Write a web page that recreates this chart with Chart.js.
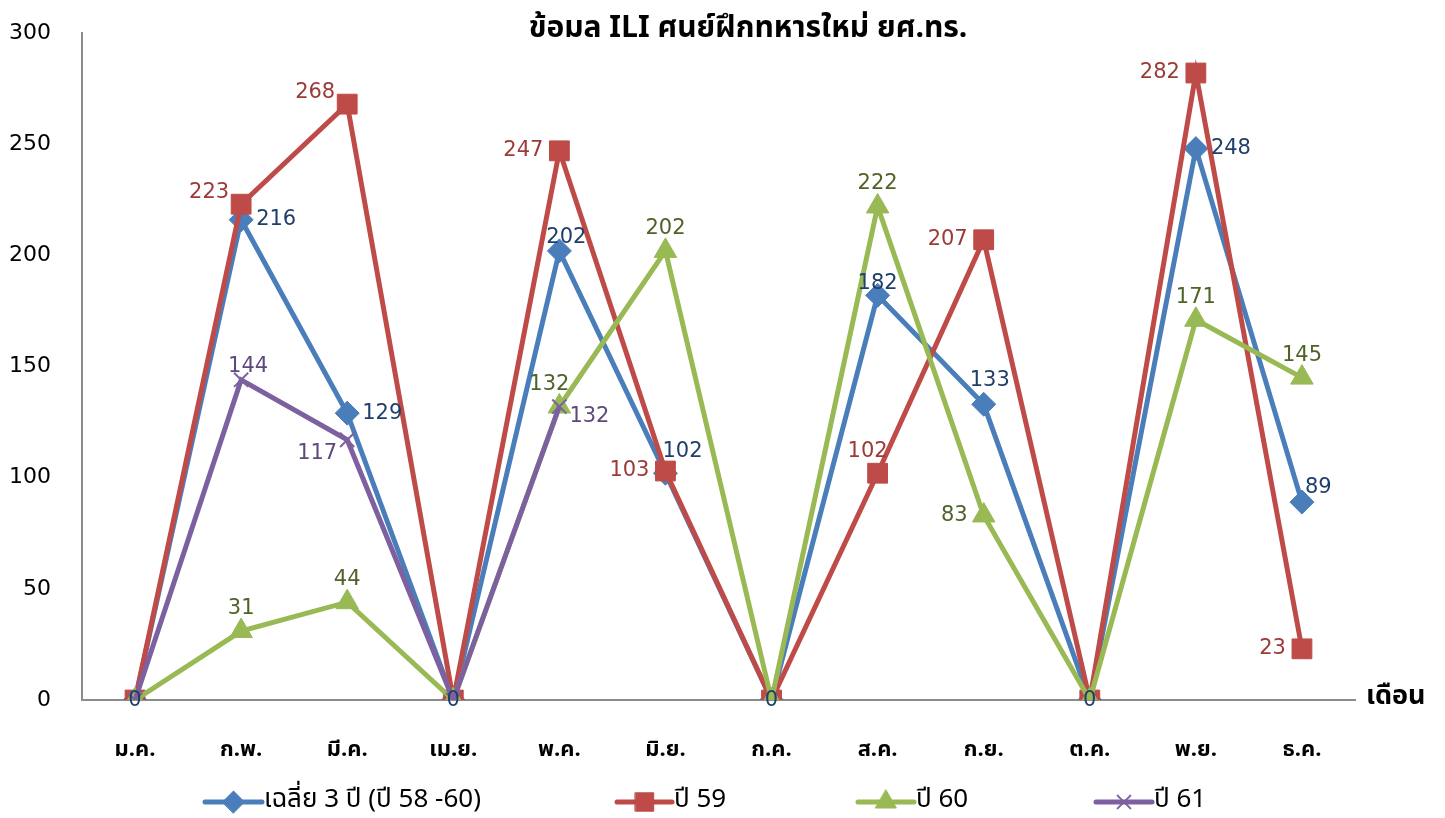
<!DOCTYPE html>
<html>
<head>
<meta charset="utf-8">
<script src="https://cdn.jsdelivr.net/npm/chart.js@4/dist/chart.umd.min.js"></script>
<style>
  html, body { margin: 0; padding: 0; background: #fff; }
</style>
</head>
<body>
<canvas id="iliChart" width="1445" height="818"></canvas>
<script>
// data
const months = ['ม.ค.', 'ก.พ.', 'มี.ค.', 'เม.ย.', 'พ.ค.', 'มิ.ย.', 'ก.ค.', 'ส.ค.', 'ก.ย.', 'ต.ค.', 'พ.ย.', 'ธ.ค.'];
const avg3Years = [0, 216, 129, 0, 202, 102, 0, 182, 133, 0, 248, 89];
const year59 = [0, 223, 268, 0, 247, 103, 0, 102, 207, 0, 282, 23];
const year60 = [0, 31, 44, 0, 132, 202, 0, 222, 83, 0, 171, 145];
const year61 = [0, 144, 117, 0, 132, null, null, null, null, null, null, null];
const seriesNames = ['เฉลี่ย 3 ปี (ปี 58 -60)', 'ปี 59', 'ปี 60', 'ปี 61'];
const yTickValues = [0, 50, 100, 150, 200, 250, 300];

// where each value label sits relative to its point
const avgLabelPos = ['c', 'r', 'r', 'c', 'or', 'tr', 'c', 'o', 'tr2', 'c', 'r', 'ur'];
const y59LabelPos = ['-', 'tl', 'tl', '-', 'l', 'l', '-', 'ta', 'l', '-', 'l', 'l'];
const y60LabelPos = ['-', 't', 't', '-', 'ta', 't', '-', 't', 'l', '-', 't', 't'];
const y61LabelPos = ['-', 'or', 'bl', '-', 'br', '-', '-', '-', '-', '-', '-', '-'];

const THAI = '"Noto Sans Thai", Tahoma, "DejaVu Sans", sans-serif';
const NUM = '"DejaVu Sans", Tahoma, sans-serif';

const lineColors = ['#4A7EBB', '#BE4B48', '#98B954', '#7D60A0'];
const labelColors = ['#1F3F6B', '#9B3A37', '#4F6228', '#5F497A'];
const pointStyles = ['rectRot', 'rect', 'triangle', 'crossRot'];
const pointSizes = [12, 14, 13, 10];

function offsetFor(pos) {
    switch (pos) {
        case 'r': return [15, 0, 'left', 'middle'];
        case 'br': return [10, 10, 'left', 'middle'];
        case 'l': return [-16, 0, 'right', 'middle'];
        case 't': return [0, -12, 'center', 'bottom'];
        case 'ta': return [-10, -11, 'center', 'bottom'];
        case 'o': return [0, -1, 'center', 'bottom'];
        case 'or': return [7, -3, 'center', 'bottom'];
        case 'tr': return [-3, -11, 'left', 'bottom'];
        case 'tr2': return [6, -13, 'center', 'bottom'];
        case 'ur': return [3, -4, 'left', 'bottom'];
        case 'tl': return [-12, -1, 'right', 'bottom'];
        case 'bl': return [-10, 3, 'right', 'top'];
        default: return [0, 0, 'center', 'middle'];
    }
}

const valueLabels = {
    id: 'valueLabels',
    afterDatasetsDraw(chart) {
        const ctx = chart.ctx;
        const positions = [avgLabelPos, y59LabelPos, y60LabelPos, y61LabelPos];
        ctx.save();
        ctx.font = '21px ' + NUM;
        [1, 2, 3, 0].forEach(i => {
            const meta = chart.getDatasetMeta(i);
            const values = chart.data.datasets[i].data;
            meta.data.forEach((pt, j) => {
                const v = values[j];
                const pos = positions[i][j];
                if (v === null || pos === '-') return;
                const [dx, dy, align, base] = offsetFor(pos);
                ctx.fillStyle = labelColors[i];
                ctx.textAlign = align;
                ctx.textBaseline = base;
                ctx.fillText(String(v), pt.x + dx, pt.y + dy + (pos === 'c' ? 1 : 0));
            });
        });
        ctx.restore();
    }
};

const decorations = {
    id: 'decorations',
    afterDraw(chart) {
        const ctx = chart.ctx;
        ctx.save();
        // title
        ctx.fillStyle = '#000';
        ctx.font = 'bold 30px ' + THAI;
        ctx.textAlign = 'center';
        ctx.textBaseline = 'middle';
        ctx.fillText('ข้อมล ILI ศนย์ฝึกทหารใหม่ ยศ.ทร.', 748, 31);

        // x axis title
        ctx.font = 'bold 27px ' + THAI;
        ctx.textAlign = 'left';
        ctx.fillText('เดือน', 1366, 699);

        // legend
        const items = [[205, 262], [617, 672], [858, 914], [1096, 1152]];
        ctx.font = '26px ' + THAI;
        items.forEach(([x0, x1], i) => {
            const y = 802;
            ctx.strokeStyle = lineColors[i];
            ctx.lineWidth = 5;
            ctx.lineCap = 'round';
            ctx.beginPath();
            ctx.moveTo(x0, y);
            ctx.lineTo(x1, y);
            ctx.stroke();
            ctx.fillStyle = lineColors[i];
            ctx.lineWidth = i === 3 ? 2 : 1;
            Chart.helpers.drawPoint(ctx, {
                pointStyle: pointStyles[i],
                radius: pointSizes[i] - 1,
                borderWidth: ctx.lineWidth,
                rotation: 0
            }, (x0 + x1) / 2, y);
            ctx.fillStyle = '#000';
            ctx.textAlign = 'left';
            ctx.textBaseline = 'middle';
            ctx.fillText(seriesNames[i], x1 + 2, y);
        });
        ctx.restore();
    }
};

const seriesValues = [avg3Years, year59, year60, year61];
const datasets = seriesValues.map((vals, i) => ({
    label: seriesNames[i],
    data: vals,
    borderColor: lineColors[i],
    backgroundColor: lineColors[i],
    borderWidth: 5,
    tension: 0,
    spanGaps: false,
    pointStyle: pointStyles[i],
    pointRadius: pointSizes[i],
    pointHoverRadius: pointSizes[i],
    pointBorderWidth: i === 3 ? 2 : 1,
    pointBackgroundColor: lineColors[i],
    pointBorderColor: lineColors[i],
    order: 3 - i
}));

const ctx = document.getElementById('iliChart').getContext('2d');
const chart = new Chart(ctx, {
    type: 'line',
    data: { labels: months, datasets: datasets },
    options: {
        responsive: false,
        animation: false,
        layout: { padding: { top: 33, right: 90, bottom: 48, left: 0 } },
        plugins: {
            legend: { display: false },
            title: { display: false },
            tooltip: { enabled: false }
        },
        scales: {
            x: {
                offset: true,
                grid: { display: false, drawTicks: false },
                border: { display: true, color: '#8C8C8C', width: 2 },
                ticks: {
                    color: '#000',
                    padding: 38,
                    font: { family: THAI, size: 22, weight: 'bold' }
                },
                afterFit(axis) { axis.height = 70; }
            },
            y: {
                min: 0,
                max: 300,
                grid: { display: false, drawTicks: false },
                border: { display: true, color: '#8C8C8C', width: 2 },
                afterBuildTicks(axis) { axis.ticks = yTickValues.map(v => ({ value: v })); },
                ticks: {
                    color: '#000',
                    padding: 31,
                    font: { family: NUM, size: 22 }
                },
                afterFit(axis) {
                    // tick padding is only there to push labels left, not to shrink the plot
                    axis.width = 82;
                    axis.paddingTop = 0;
                    axis.paddingBottom = 0;
                }
            }
        }
    },
    plugins: [valueLabels, decorations]
});
</script>
</body>
</html>
